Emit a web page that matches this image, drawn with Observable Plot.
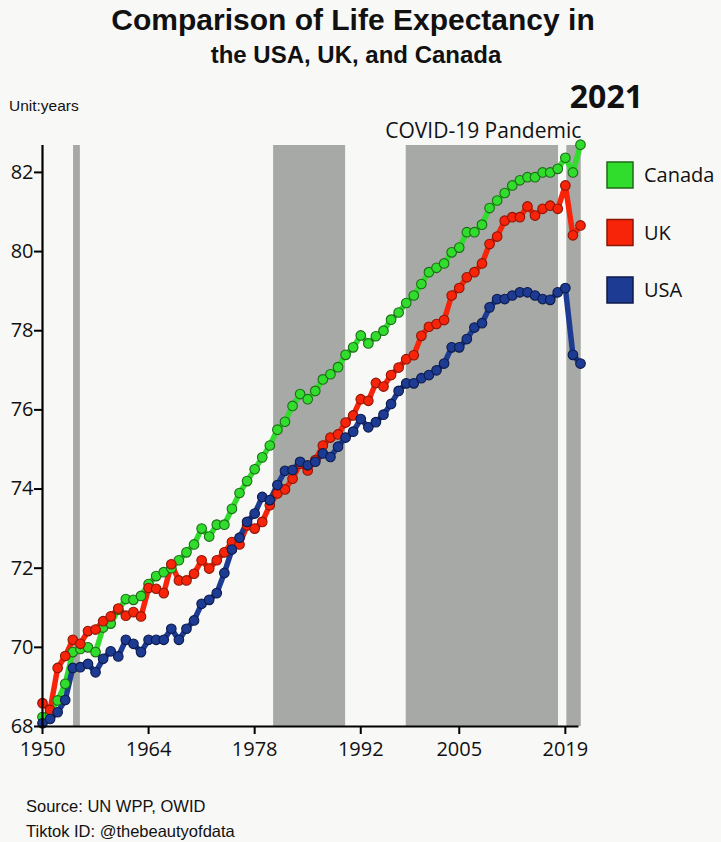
<!DOCTYPE html>
<html><head><meta charset="utf-8">
<script src="https://cdn.jsdelivr.net/npm/d3@7"></script>
<script src="https://cdn.jsdelivr.net/npm/@observablehq/plot@0.6"></script>
<style>
html,body{margin:0;padding:0;background:#f8f8f7;}
#chart{width:721px;height:842px;position:relative;}
svg{display:block;}
</style></head><body><div id="chart"></div>
<script>
const years = d3.range(1950, 2022);
const countries = ["Canada", "UK", "USA"];
const colors = ["#30dc2c", "#f7240a", "#1d3b92"];
const edgeColors = ["#1f6a18", "#8c1606", "#0c1a4a"];

const canada = [68.24,68.35,68.66,69.08,69.88,69.96,70.0,69.88,70.5,70.6,
70.95,71.22,71.2,71.3,71.6,71.8,71.9,72.0,72.2,72.4,
72.6,73.0,72.8,73.1,73.1,73.5,73.9,74.2,74.5,74.8,
75.1,75.5,75.7,76.1,76.4,76.27,76.48,76.77,76.9,77.08,
77.39,77.58,77.88,77.68,77.86,78.0,78.28,78.46,78.7,78.89,
79.18,79.48,79.59,79.7,79.98,80.1,80.49,80.49,80.68,81.1,
81.29,81.48,81.67,81.8,81.88,81.88,82.0,82.0,82.09,82.37,
82.0,82.7];
const uk = [68.59,68.42,69.48,69.78,70.19,70.09,70.41,70.45,70.66,70.78,
70.98,70.8,70.89,70.78,71.5,71.48,71.37,72.1,71.69,71.69,
71.86,72.2,71.99,72.2,72.4,72.66,72.6,73.08,73.0,73.17,
73.59,73.89,73.99,74.26,74.64,74.47,74.73,75.1,75.3,75.38,
75.68,75.86,76.27,76.23,76.68,76.59,76.88,77.07,77.28,77.38,
77.87,78.1,78.17,78.27,78.89,79.08,79.35,79.48,79.7,80.19,
80.38,80.78,80.87,80.87,81.14,80.91,81.08,81.16,81.08,81.67,
80.41,80.66];
const usa = [68.08,68.19,68.36,68.67,69.48,69.5,69.58,69.37,69.71,69.9,
69.77,70.19,70.09,69.88,70.19,70.19,70.19,70.47,70.19,70.47,
70.68,71.1,71.2,71.37,71.88,72.47,72.77,73.17,73.38,73.8,
73.72,74.1,74.46,74.48,74.69,74.6,74.69,74.9,74.81,75.07,
75.3,75.45,75.77,75.56,75.69,75.88,76.15,76.48,76.67,76.67,
76.8,76.88,77.0,77.17,77.58,77.58,77.79,78.08,78.19,78.59,
78.8,78.8,78.89,78.97,78.97,78.89,78.8,78.78,78.97,79.08,
77.39,77.17];
const seriesValues = [canada, uk, usa];

const shadeStart = [1954.1, 1980.5, 1998.0, 2019.2];
const shadeEnd   = [1955.0, 1990.0, 2018.1, 2021.1];

const xTicks = [1950, 1964, 1978, 1992, 2005, 2019];
const yTicks = [68, 70, 72, 74, 76, 78, 80, 82];
const xDomain = [1950, 2021];
const yDomain = [68, 82.68];

const titleText = "Comparison of Life Expectancy in";
const subtitleText = "the USA, UK, and Canada";
const unitText = "Unit:years";
const yearLabel = "2021";
const covidLabel = "COVID-19 Pandemic";
const sourceText = "Source: UN WPP, OWID";
const tiktokText = "Tiktok ID: @thebeautyofdata";

const shades = shadeStart.map((s, i) => ({x1: s, x2: shadeEnd[i]}));
const rows = countries.map((c, i) => years.map((yr, j) => ({country: c, year: yr, value: seriesValues[i][j]})));

const drawOrder = [0, 1, 2];
const marks = [
  Plot.rect(shades, {x1: "x1", x2: "x2", y1: yDomain[0], y2: yDomain[1], fill: "#a6a9a5"}),
  Plot.text([{x: shadeEnd[3], label: covidLabel}], {x: "x", y: yDomain[1], text: "label", textAnchor: "end", lineAnchor: "bottom", dy: -8, fontSize: 21, fill: "#111"}),
];
for (const i of drawOrder) {
  marks.push(Plot.line(rows[i], {x: "year", y: "value", stroke: colors[i], strokeWidth: 5.5, curve: "linear"}));
}
for (const i of drawOrder) {
  marks.push(Plot.dot(rows[i], {x: "year", y: "value", r: 4.8, fill: colors[i], stroke: edgeColors[i], strokeWidth: 1.1}));
}
marks.push(
  Plot.ruleY([yDomain[0]], {x1: xDomain[0], x2: 2020.8, stroke: "#000", strokeWidth: 2.2}),
  Plot.ruleX([xDomain[0]], {y1: yDomain[0], y2: yDomain[1], stroke: "#000", strokeWidth: 2.2}),
  Plot.axisY({ticks: yTicks, tickSize: 8, tickPadding: 1, fontSize: 20, stroke: "#000", strokeWidth: 2, fill: "#111", label: null}),
  Plot.axisX({ticks: xTicks, tickSize: 8, tickPadding: 7, fontSize: 20, stroke: "#000", strokeWidth: 2, fill: "#111", label: null, tickFormat: d => String(d)})
);

const chart = Plot.plot({
  width: 721,
  height: 842,
  marginLeft: 42,
  marginRight: 141,
  marginTop: 145,
  marginBottom: 116,
  style: {fontFamily: "'Open Sans', sans-serif", background: "#f8f8f7", overflow: "visible"},
  x: {domain: xDomain, axis: null},
  y: {domain: yDomain, axis: null},
  marks
});
document.getElementById("chart").appendChild(chart);

// annotations & legend
const svg = d3.select(chart);
const arial = "'Liberation Sans', Arial, sans-serif";
function addText(x, y, anchor, family, weight, size, txt) {
  svg.append("text").attr("x", x).attr("y", y).attr("text-anchor", anchor)
    .style("text-anchor", anchor)
    .attr("font-family", family).attr("font-weight", weight).attr("font-size", size)
    .attr("fill", "#111").text(txt);
}
addText(353, 30, "middle", arial, "bold", 30, titleText);
addText(356, 63, "middle", arial, "bold", 24, subtitleText);
addText(9, 111, "start", arial, "normal", 15.5, unitText);
addText(643, 108, "end", "'Open Sans', sans-serif", "bold", 32, yearLabel);
addText(26, 812, "start", arial, "normal", 16.5, sourceText);
addText(26, 837, "start", arial, "normal", 16.5, tiktokText);

countries.forEach((c, i) => {
  const top = 162 + i * 57.5;
  svg.append("rect").attr("x", 607).attr("y", top).attr("width", 26).attr("height", 26)
    .attr("fill", colors[i]).attr("stroke", edgeColors[i]).attr("stroke-width", 1.5);
  addText(644, top + 20, "start", "'Open Sans', sans-serif", "normal", 20, c);
});
</script></body></html>
